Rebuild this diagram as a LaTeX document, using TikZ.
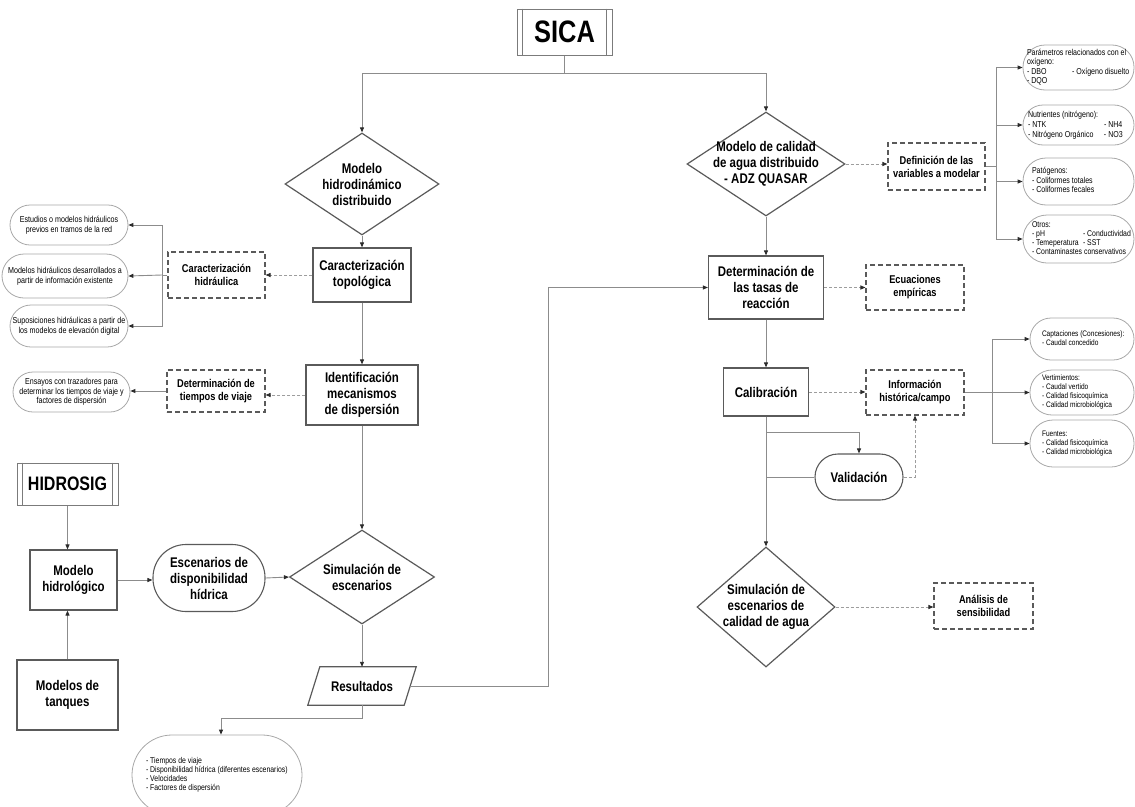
\documentclass[tikz,border=0pt]{standalone}
\usepackage{fontspec}
\setmainfont{Liberation Sans}[FakeStretch=0.82]
\usetikzlibrary{shapes.geometric,arrows.meta,calc}
\definecolor{edge}{HTML}{5A5A5A}
\definecolor{wirec}{HTML}{8C8C8C}
\definecolor{soft}{HTML}{A8A8A8}
\definecolor{tipc}{HTML}{2A2A2A}
% fixed-width, left-aligned block of lines (no wrapping)
\newcommand\leftblock[2]{\makebox[#1][l]{\begin{tabular}{@{}l@{}}#2\end{tabular}}}

\begin{document}
\begin{tikzpicture}[x=1pt,y=-1pt,
  every node/.style={inner sep=0pt, align=center},
  txtbig/.style={font=\bfseries\fontsize{14}{16}\selectfont},
  txtmid/.style={font=\bfseries\fontsize{11.3}{13}\selectfont},
  txtsmall/.style={font=\fontsize{8.7}{9.5}\selectfont},
  proc/.style={txtbig, draw=edge, line width=1.2pt, fill=white},
  decision/.style={diamond, draw=edge, line width=1.2pt, fill=white},
  note/.style={txtmid, draw=edge, line width=1.1pt, dash pattern=on 5pt off 3pt},
  term/.style={txtbig, draw=edge, line width=1.1pt, rounded corners=#1},
  pill/.style={txtsmall, draw=soft, line width=0.8pt, rounded corners=#1},
  wire/.style={draw=wirec, line width=0.9pt},
  arr/.style={wire, -{Triangle[length=5pt,width=4pt,color=tipc]}},
  dots/.style={arr, draw=wirec!85, dash pattern=on 3pt off 2pt},
]
\useasboundingbox (0,0) rectangle (1135,806);

% ---------- top ----------
\node[proc, minimum width=95pt, minimum height=46pt, draw=edge!80, line width=1pt,
      font=\bfseries\fontsize{31}{33}\selectfont] (sica) at (564.5,32) {SICA};
\draw[draw=edge!80, line width=1pt]
  ([xshift=6pt]sica.north west) -- ([xshift=6pt]sica.south west)
  ([xshift=-6pt]sica.north east) -- ([xshift=-6pt]sica.south east);

% ---------- hydrodynamic column ----------
\node[decision, minimum width=154pt, minimum height=102pt,
      label={[txtbig]center:{Modelo\\hidrodinámico\\distribuido}}] (hidro) at (362,184) {};
\node[proc, minimum width=98pt, minimum height=54pt] (topo) at (362,275) {Caracterización\\topológica};
\node[note, minimum width=97pt, minimum height=46pt] (chid) at (216.5,275) {Caracterización\\hidráulica};
\node[pill=20pt, minimum width=118pt, minimum height=40pt] (est1) at (69,225)
  {Estudios o modelos hidráulicos\\previos en tramos de la red};
\node[pill=22pt, minimum width=126pt, minimum height=44pt] (est2) at (65,276)
  {Modelos hidráulicos desarrollados a\\partir de información existente};
\node[pill=21pt, minimum width=118pt, minimum height=42pt] (est3) at (69,326)
  {Suposiciones hidráulicas a partir de\\los modelos de elevación digital};
\node[proc, minimum width=112pt, minimum height=60pt] (ident) at (362,395) {Identificación\\mecanismos\\de dispersión};
\node[note, minimum width=98pt, minimum height=42pt] (dtv) at (216,391) {Determinación de\\tiempos de viaje};
\node[pill=20pt, minimum width=117pt, minimum height=40pt] (ens) at (71.5,392)
  {Ensayos con trazadores para\\determinar los tiempos de viaje y\\factores de dispersión};

% ---------- hydrology ----------
\node[proc, minimum width=101pt, minimum height=42pt, draw=edge!80, line width=1pt,
      font=\bfseries\fontsize{19.5}{22}\selectfont] (hsig) at (67.5,484) {HIDROSIG};
\draw[draw=edge!80, line width=1pt]
  ([xshift=6pt]hsig.north west) -- ([xshift=6pt]hsig.south west)
  ([xshift=-6pt]hsig.north east) -- ([xshift=-6pt]hsig.south east);
\node[proc, minimum width=87pt, minimum height=60pt] (mhid) at (73.5,580) {Modelo\\hidrológico};
\node[proc, minimum width=101pt, minimum height=70pt] (tanq) at (67.5,695) {Modelos de\\tanques};
\node[term=33pt, minimum width=112pt, minimum height=67pt] (escd) at (209,578) {Escenarios de\\disponibilidad\\hídrica};
\node[decision, minimum width=145pt, minimum height=94pt,
      label={[txtbig]center:{Simulación de\\escenarios}}] (simesc) at (362,577) {};
\node[txtbig, minimum width=96pt, minimum height=38pt] (res) at (362,686) {Resultados};
\draw[draw=edge, line width=1.2pt]
  ($(res.north west)+(6,0)$) -- ($(res.north east)+(6,0)$) --
  ($(res.south east)+(-6,0)$) -- ($(res.south west)+(-6,0)$) -- cycle;
\node[pill=40pt, minimum height=80pt, inner xsep=14pt,
      font=\fontsize{8.4}{9}\selectfont] (bot) at (217,775)
  {\leftblock{142pt}{- Tiempos de viaje\\- Disponibilidad hídrica (diferentes escenarios)\\- Velocidades\\- Factores de dispersión}};

% ---------- water quality column ----------
\node[decision, minimum width=158pt, minimum height=104pt,
      label={[txtbig]center:{Modelo de calidad\\de agua distribuido\\- ADZ QUASAR}}] (quasar) at (766,164) {};
\node[note, minimum width=97pt, minimum height=47pt] (defv) at (936.5,166.5) {Definición de las\\variables a modelar};
\node[pill=22pt, minimum height=45pt, inner xsep=4pt, font=\fontsize{8.6}{9.4}\selectfont] (r1) at (1078.5,67.5)
  {\leftblock{103pt}{Parámetros relacionados con el\\oxígeno:\\\makebox[45pt][l]{- DBO}- Oxígeno disuelto\\- DQO}};
\node[pill=20pt, minimum height=40pt, inner xsep=5pt, font=\fontsize{8.6}{10}\selectfont] (r2) at (1078.5,125)
  {\leftblock{101pt}{Nutrientes (nitrógeno):\\\makebox[76pt][l]{- NTK}- NH4\\\makebox[76pt][l]{- Nitrógeno Orgánico}- NO3}};
\node[pill=23pt, minimum height=47pt, inner xsep=9pt, font=\fontsize{8.6}{9.4}\selectfont] (r3) at (1078.5,181.5)
  {\leftblock{93pt}{Patógenos:\\- Coliformes totales\\- Coliformes fecales}};
\node[pill=24pt, minimum height=48pt, inner xsep=9pt, font=\fontsize{8.4}{9}\selectfont] (r4) at (1078.5,239)
  {\leftblock{93pt}{Otros:\\\makebox[51pt][l]{- pH}- Conductividad\\\makebox[51pt][l]{- Temeperatura}- SST\\- Contaminastes conservativos}};

\node[proc, minimum width=115pt, minimum height=63pt] (tasas) at (766,287.5) {Determinación de\\las tasas de\\reacción};
\node[note, minimum width=98pt, minimum height=45pt] (ecua) at (915,287.5) {Ecuaciones\\empíricas};
\node[proc, minimum width=85pt, minimum height=48pt] (calib) at (766,392) {Calibración};
\node[note, minimum width=98pt, minimum height=45pt] (info) at (915,392.5) {Información\\histórica/campo};
\node[pill=21pt, minimum height=42pt, inner xsep=12pt, font=\fontsize{8}{9}\selectfont] (c1) at (1082,339)
  {\leftblock{80pt}{Captaciones (Concesiones):\\- Caudal concedido}};
\node[pill=22pt, minimum height=45pt, inner xsep=12pt, font=\fontsize{8}{9}\selectfont] (c2) at (1082,392.5)
  {\leftblock{80pt}{Vertimientos:\\- Caudal vertido\\- Calidad fisicoquímica\\- Calidad microbiológica}};
\node[pill=23pt, minimum height=47pt, inner xsep=12pt, font=\fontsize{8}{9}\selectfont] (c3) at (1082,443.5)
  {\leftblock{80pt}{Fuentes:\\- Calidad fisicoquímica\\- Calidad microbiológica}};
\node[term=23pt, minimum width=88pt, minimum height=46pt] (valid) at (859,477) {Validación};
\node[decision, minimum width=138pt, minimum height=120pt,
      label={[txtbig]center:{Simulación de\\escenarios de\\calidad de agua}}] (simcal) at (766,607) {};
\node[note, minimum width=99pt, minimum height=46pt] (anal) at (983.5,606) {Análisis de\\sensibilidad};

% ---------- connectors ----------
\coordinate (sj) at (564.5,73);
\draw[wire] (sica.south) -- (sj);
\draw[arr] (sj) -| (hidro.north);
\draw[arr] (sj) -| (quasar.north);

\draw[arr] (hidro.south) -- (topo.north);
\draw[dots] (topo.west) -- (chid.east);
\coordinate (bl) at (162,275);
\draw[wire] (chid.west) -- (bl);
\draw[arr] (bl) |- (est1.east);
\draw[arr] (bl) -- (est2.east);
\draw[arr] (bl) |- (est3.east);
\draw[arr] (topo.south) -- (ident.north);
\draw[dots] (ident.west) -- (ident.west -| dtv.east);
\draw[arr] (dtv.west) -- (dtv.west -| ens.east);
\draw[arr] (ident.south) -- (simesc.north);

\draw[arr] (hsig.south) -- (hsig.south |- mhid.north);
\draw[arr] (tanq.north) -- (tanq.north |- mhid.south);
\draw[arr] (mhid.east) -- (mhid.east -| escd.west);
\draw[arr] (escd.east) -- (simesc.west);
\draw[arr] (simesc.south) -- (res.north);
\coordinate (rt) at (548,686);
\draw[arr] (res.east) -- (rt) |- (tasas.west);
\draw[arr] (res.south) -- ++(0,13) -| ([xshift=4pt]bot.north);

\draw[dots] (quasar.east) -- (quasar.east -| defv.west);
\coordinate (rb) at (996,166.5);
\draw[wire] (defv.east) -- (rb);
\draw[arr] (rb) |- (r1.west);
\draw[arr] (rb) |- (r2.west);
\draw[arr] (rb) |- (r3.west);
\draw[arr] (rb) |- (r4.west);

\draw[arr] (quasar.south) -- (tasas.north);
\draw[dots] (tasas.east) -- (ecua.west);
\draw[arr] (tasas.south) -- (calib.north);
\draw[dots] (calib.east) -- (calib.east -| info.west);
\coordinate (cb) at (992,392.5);
\draw[wire] (info.east) -- (cb);
\draw[arr] (cb) |- (c1.west);
\draw[arr] (cb) -- (c2.west);
\draw[arr] (cb) |- (c3.west);

\draw[arr] (calib.south) -- (simcal.north);
\coordinate (vb) at (766,432);
\draw[arr] (vb) -| (valid.north);
\draw[wire] (valid.west) -- (valid.west -| calib.south);
\draw[dots] (valid.east) -| (info.south);
\draw[dots] (simcal.east) -- (simcal.east -| anal.west);
\end{tikzpicture}
\end{document}
